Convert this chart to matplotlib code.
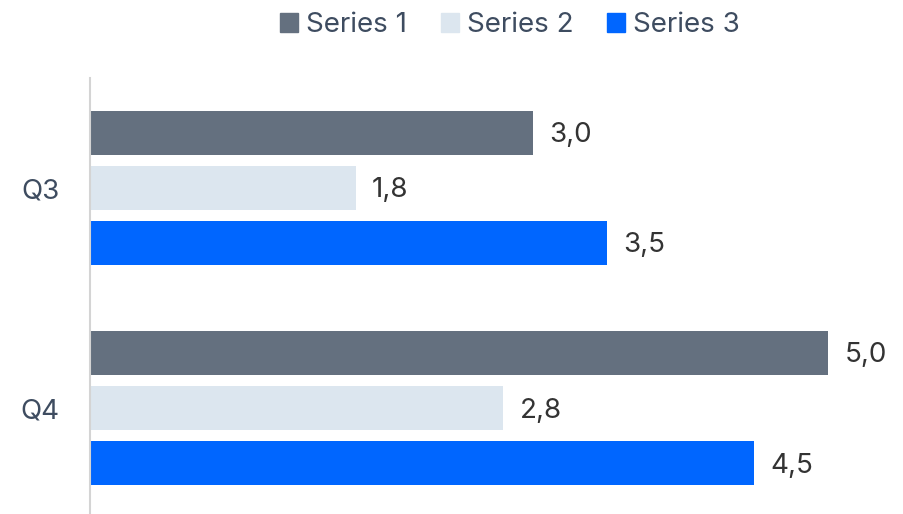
import numpy as np
import matplotlib.pyplot as plt
from matplotlib.patches import Patch

categories = ["Q3", "Q4"]
series_names = ["Series 1", "Series 2", "Series 3"]
series_1 = [3.0, 5.0]
series_2 = [1.8, 2.8]
series_3 = [3.5, 4.5]
colors = ["#64707f", "#dce6ef", "#0066ff"]

plt.rcParams['font.family'] = ['Inter', 'DejaVu Sans']
fs = 20

fig = plt.figure(figsize=(9.04, 5.14), dpi=100)
# axes placed in pixel terms: left 90, right 902, top 78, bottom 514
ax = fig.add_axes([90 / 904, 0, 812 / 904, (514 - 78) / 514])

y = np.arange(len(categories))
bar_h = 0.2
step = 0.25
for i, (name, vals) in enumerate(zip(series_names, [series_1, series_2, series_3])):
    pos = y + (i - 1) * step
    ax.barh(pos, vals, height=bar_h, color=colors[i], label=name)
    for p, v in zip(pos, vals):
        ax.text(v + 0.11, p + 0.01, f"{v:.1f}".replace(".", ","), va="center", ha="left",
                fontsize=fs, color="#333333")

ax.set_xlim(0, 5.5)
ax.set_ylim(1.48, -0.5)
ax.set_yticks(y)
ax.set_yticklabels(categories, fontsize=fs, color="#3e4c60")
ax.tick_params(axis="y", length=0, pad=22)
ax.set_xticks([])
for s in ["top", "right", "bottom"]:
    ax.spines[s].set_visible(False)
ax.spines["left"].set_color("#d4d4d4")
ax.spines["left"].set_linewidth(1.5)

handles = [Patch(color=c, label=n) for c, n in zip(colors, series_names)]
fig.legend(handles=handles, loc="center", bbox_to_anchor=(510 / 904, 1 - 25 / 514),
           ncol=3, frameon=False, fontsize=fs, handlelength=0.65, handleheight=0.65,
           handletextpad=0.3, columnspacing=1.2, labelcolor="#3e4c60")

fig.savefig("out.png", dpi=100)
